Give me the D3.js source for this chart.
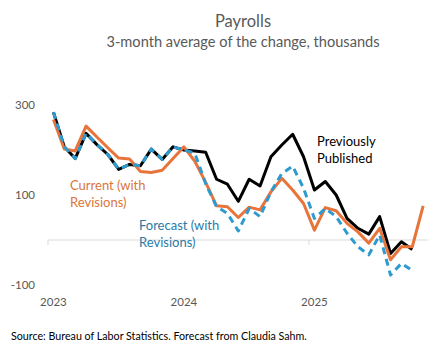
<!DOCTYPE html>
<html>
<head>
<meta charset="utf-8">
<script src="https://cdn.jsdelivr.net/npm/d3@7"></script>
<style>
  body { margin: 0; background: #fff; }
  text { font-family: Lato, "Liberation Sans", sans-serif; }
</style>
</head>
<body>
<div id="chart"></div>
<script>
// Jan 2023 .. Nov 2025
const months = d3.timeMonths(new Date(2023, 0, 1), new Date(2025, 11, 1))
const yearLabels = ['2023', '2024', '2025']
const yTicks = [-100, 100, 300]

const previouslyPublished = [284, 207, 181, 237, 212, 190, 157, 168, 165, 202, 179, 207,
    200, 198, 195, 135, 124, 86, 135, 120, 185, 211, 235, 185,
    111, 130, 100, 48, 26, 13, 52, -30, -4, -21]
const current = [268, 202, 198, 253, 229, 205, 182, 180, 152, 150, 155, 181,
    207, 175, 128, 76, 74, 50, 73, 67, 107, 137, 111, 81,
    22, 72, 65, 37, 18, -7, 26, -44, -15, -15, 76]
const forecast = [284, 207, 181, 237, 212, 190, 157, 168, 165, 202, 179, 207,
    200, 193, 125, 74, 59, 20, 70, 52, 107, 148, 164, 115,
    48, 70, 52, 15, -15, -33, 11, -78, -52, -68]

const width = 440
const height = 353

const svg = d3.select('#chart').append('svg')
    .attr('width', width)
    .attr('height', height)

const x = d3.scaleBand()
    .domain(d3.range(months.length))
    .range([48, 428.6])
const xc = i => x(i) + x.bandwidth() / 2

const y = d3.scaleLinear()
    .domain([-100, 300])
    .range([285, 105])

// title
svg.append('text')
    .attr('x', 243).attr('y', 27)
    .attr('text-anchor', 'middle')
    .attr('font-size', 16.5)
    .attr('fill', '#595959')
    .text('Payrolls')
svg.append('text')
    .attr('x', 243).attr('y', 47)
    .attr('text-anchor', 'middle')
    .attr('font-size', 14.6)
    .attr('fill', '#595959')
    .text('3-month average of the change, thousands')

// y labels
svg.append('g').selectAll('text')
    .data(yTicks)
    .join('text')
    .attr('x', 35)
    .attr('y', d => y(d))
    .attr('dy', '0.35em')
    .attr('text-anchor', 'end')
    .attr('font-size', 11.5)
    .attr('fill', '#595959')
    .text(d => d)

// zero axis with year ticks
const axisG = svg.append('g')
axisG.append('line')
    .attr('x1', x.range()[0]).attr('x2', x.range()[1])
    .attr('y1', y(0)).attr('y2', y(0))
    .attr('stroke', '#d9d9d9')
    .attr('stroke-width', 1)
const janIdx = months.map((m, i) => i).filter(i => months[i].getMonth() === 0)
axisG.selectAll('line.tick')
    .data(janIdx)
    .join('line')
    .attr('class', 'tick')
    .attr('x1', d => x(d)).attr('x2', d => x(d))
    .attr('y1', y(0)).attr('y2', y(0) + 5)
    .attr('stroke', '#d9d9d9')

svg.append('g').selectAll('text')
    .data(janIdx)
    .join('text')
    .attr('x', d => xc(d))
    .attr('y', 306)
    .attr('text-anchor', 'middle')
    .attr('font-size', 11.5)
    .attr('fill', '#595959')
    .text((d, i) => yearLabels[i])

const line = d3.line()
    .x((d, i) => xc(i))
    .y(d => y(d))

const series = [
    { values: previouslyPublished, color: '#000000', dash: null },
    { values: current, color: '#E8743B', dash: null },
    { values: forecast, color: '#2E9BCF', dash: '7,5' },
]

svg.append('g').selectAll('path')
    .data(series)
    .join('path')
    .attr('d', d => line(d.values))
    .attr('fill', 'none')
    .attr('stroke', d => d.color)
    .attr('stroke-width', 3)
    .attr('stroke-dasharray', d => d.dash)
    .attr('stroke-linejoin', 'round')

// labels
function multiLabel(lines, px, py, color) {
    svg.append('text')
        .attr('x', px).attr('y', py)
        .attr('font-size', 13)
        .attr('fill', color)
        .selectAll('tspan')
        .data(lines)
        .join('tspan')
        .attr('x', px)
        .attr('dy', (d, i) => i ? 17 : 0)
        .text(d => d)
}
multiLabel(['Previously', 'Published'], 317, 146, '#000')
multiLabel(['Current (with', 'Revisions)'], 70, 190, '#D9763A')
multiLabel(['Forecast (with', 'Revisions)'], 139, 230, '#2A7BA8')

svg.append('text')
    .attr('x', 11).attr('y', 340)
    .attr('font-size', 10.7)
    .attr('fill', '#000')
    .text('Source: Bureau of Labor Statistics. Forecast from Claudia Sahm.')
</script>
</body>
</html>
